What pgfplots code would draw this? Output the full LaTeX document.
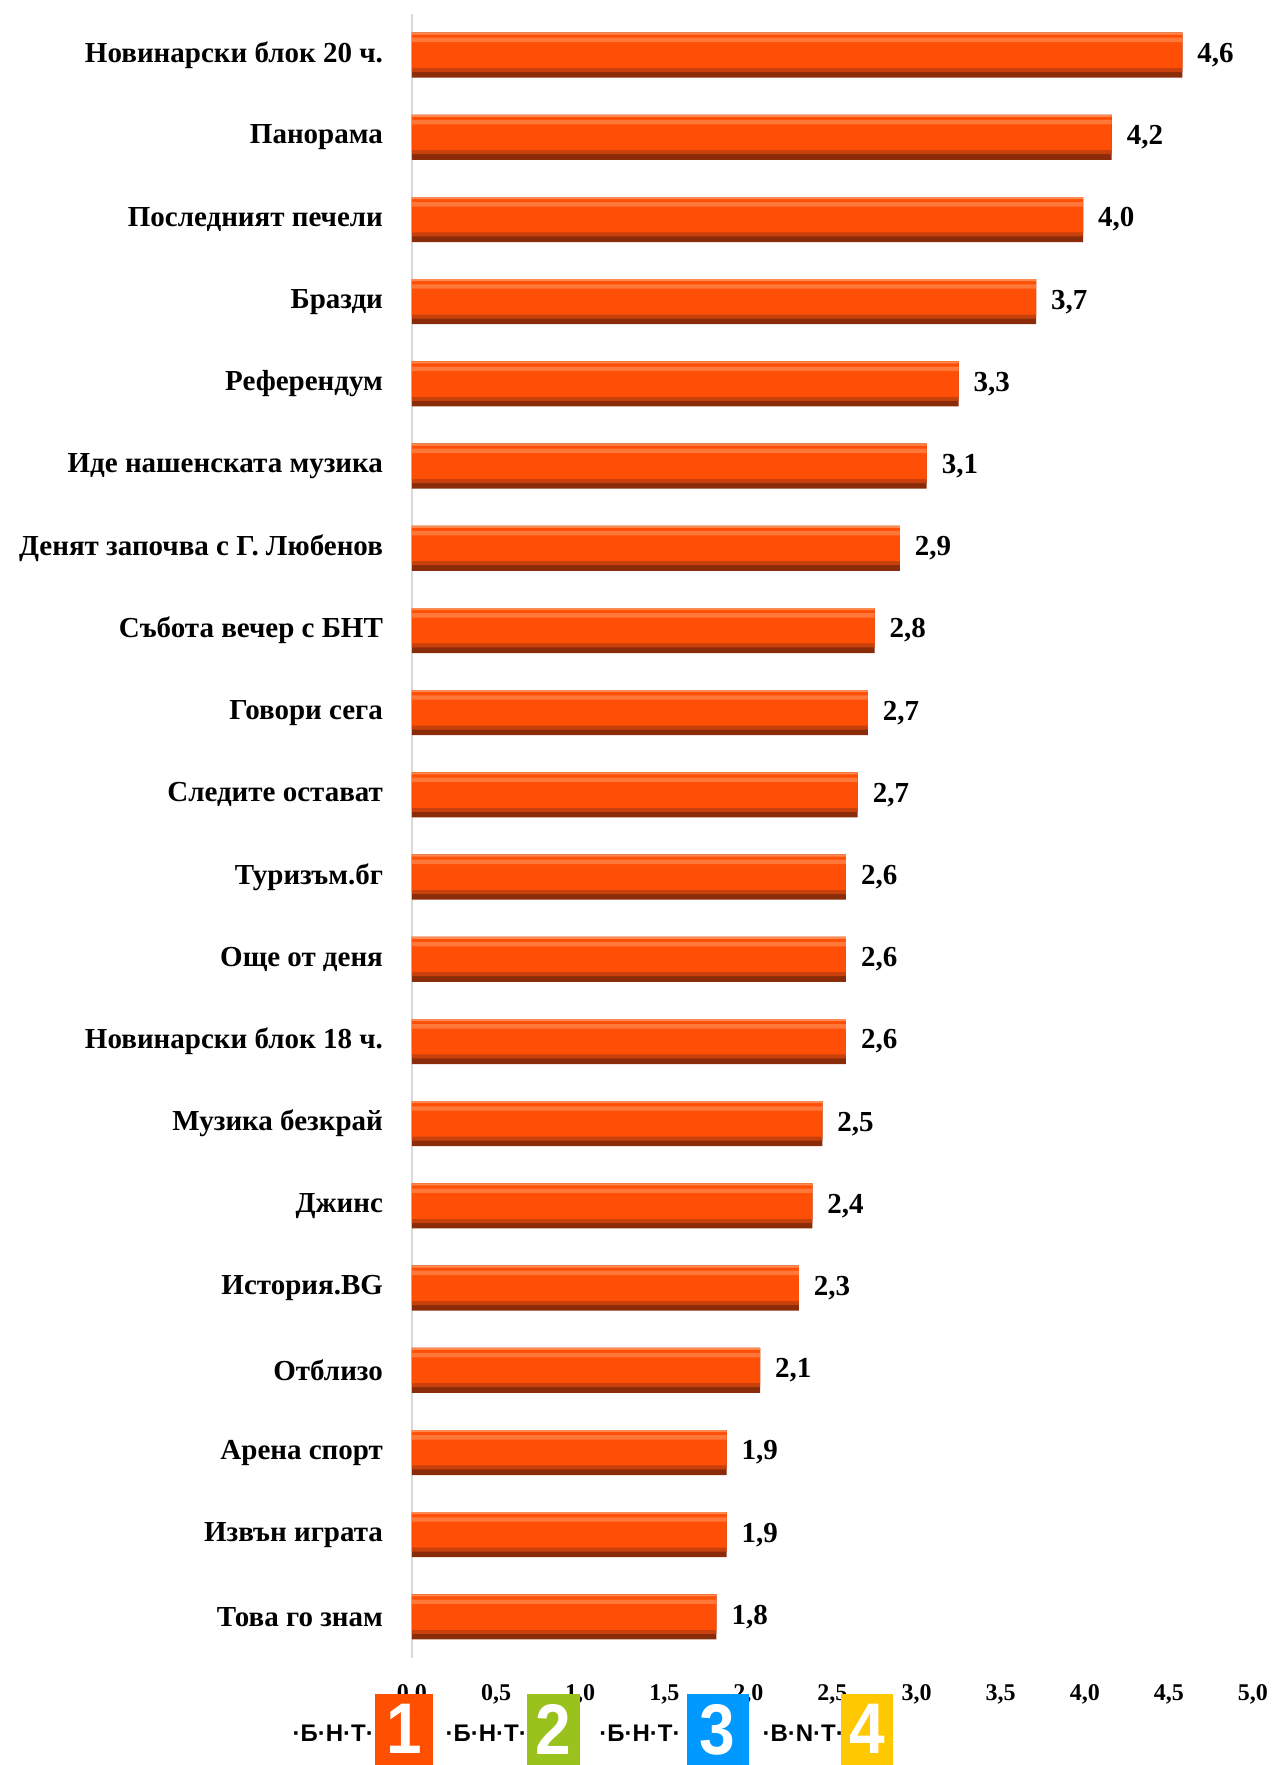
\documentclass[border=0pt]{standalone}
\usepackage{fontspec}
\setmainfont{Liberation Serif}
\setsansfont{Liberation Sans}
\usepackage{pgfplots}
\usepackage{pgfplotstable}
\pgfplotsset{compat=1.18}

\definecolor{barmain}{HTML}{FF4E05}
\definecolor{bardark}{HTML}{8A2C0A}
\definecolor{barmid}{HTML}{C8400C}
\definecolor{barlight}{HTML}{FF8A50}
\definecolor{bnt1}{HTML}{FF4F00}
\definecolor{bnt2}{HTML}{99C31C}
\definecolor{bnt3}{HTML}{0099FF}
\definecolor{bnt4}{HTML}{FFC800}

% v = bar length, lbl = printed value
\pgfplotstableread[col sep=semicolon]{
i;v;lbl;name
0;4.58;4,6;{Новинарски блок 20 ч.}
1;4.16;4,2;{Панорама}
2;3.99;4,0;{Последният печели}
3;3.71;3,7;{Бразди}
4;3.25;3,3;{Референдум}
5;3.06;3,1;{Иде нашенската музика}
6;2.90;2,9;{Денят започва с Г. Любенов}
7;2.75;2,8;{Събота вечер с БНТ}
8;2.71;2,7;{Говори сега}
9;2.65;2,7;{Следите остават}
10;2.58;2,6;{Туризъм.бг}
11;2.58;2,6;{Още от деня}
12;2.58;2,6;{Новинарски блок 18 ч.}
13;2.44;2,5;{Музика безкрай}
14;2.38;2,4;{Джинс}
15;2.30;2,3;{История.BG}
16;2.07;2,1;{Отблизо}
17;1.87;1,9;{Арена спорт}
18;1.87;1,9;{Извън играта}
19;1.81;1,8;{Това го знам}
}\data

\begin{document}
\begin{tikzpicture}
\useasboundingbox (-206pt,-53.5pt) rectangle (429.5pt,829pt);
\begin{axis}[
  at={(0,0)}, anchor=south west,
  scale only axis, width=420.5pt, height=822pt,
  xbar, bar width=22.5pt,
  xmin=0, xmax=5, ymin=-0.5, ymax=19.5, y dir=reverse,
  enlargelimits=false, clip=false,
  axis x line*=bottom, axis y line*=left,
  x axis line style={draw=none},
  y axis line style={draw=black!15, line width=1.2pt},
  major tick length=0pt, tick style={draw=none},
  xtick={0,0.5,...,5},
  ytick={0,...,19},
  yticklabels from table={\data}{name},
  xticklabel style={font=\bfseries\fontsize{12}{12}\selectfont, anchor=north, inner sep=0pt, yshift=-13pt,
    /pgf/number format/.cd, fixed, fixed zerofill, precision=1, use comma, assume math mode=true},
  yticklabel style={font=\bfseries\fontsize{14.5}{14.5}\selectfont, xshift=-11pt},
]
% bevelled bars: dark base, main body, highlight strips (all from the same table)
\addplot[draw=none, fill=bardark, bar width=22.5pt, bar shift=0pt] table[x=v, y=i] {\data};
\addplot[draw=none, fill=barmid, bar width=19.7pt, bar shift=1.4pt] table[x=v, y=i] {\data};
\addplot[draw=none, fill=barmain, bar width=17.7pt, bar shift=2.4pt] table[x=v, y=i] {\data};
\addplot[draw=none, fill=barlight!70!barmain, bar width=2.2pt, bar shift=7.6pt] table[x=v, y=i] {\data};
\addplot[draw=none, fill=barlight, bar width=1pt, bar shift=10.75pt,
  point meta=explicit symbolic, nodes near coords, nodes near coords align={horizontal},
  every node near coord/.append style={font=\bfseries\fontsize{14.5}{14.5}\selectfont,
    anchor=west, xshift=4pt, yshift=-10.75pt, text=black}]
  table[x=v, y=i, meta=lbl] {\data};
\end{axis}
% channel logos under the axis
\begin{scope}[font=\sffamily\bfseries\fontsize{12}{12}\selectfont, inner sep=0pt]
\node at (-39.4pt,-37.8pt) {·Б·Н·Т·};
\node at (37.1pt,-37.8pt) {·Б·Н·Т·};
\node at (114pt,-37.8pt) {·Б·Н·Т·};
\node at (195.6pt,-37.8pt) {·B·N·T·};
\end{scope}
\fill[bnt1] (-18.5pt,-18pt) rectangle (10.7pt,-53.5pt);
\fill[bnt2] (57.4pt,-18pt) rectangle (83.9pt,-53.5pt);
\fill[bnt3] (137.3pt,-18pt) rectangle (168.3pt,-53.5pt);
\fill[bnt4] (214.5pt,-18pt) rectangle (240.3pt,-53.5pt);
\begin{scope}[font=\sffamily\bfseries\fontsize{32}{32}\selectfont, text=white, inner sep=0pt]
\node[anchor=north, yscale=1.12] at (-3.9pt,-23pt) {1};
\node[anchor=north, yscale=1.12] at (70.65pt,-23pt) {2};
\node[anchor=north, yscale=1.12] at (152.8pt,-23pt) {3};
\node[anchor=north, yscale=1.12] at (227.4pt,-23pt) {4};
\end{scope}
\end{tikzpicture}
\end{document}
